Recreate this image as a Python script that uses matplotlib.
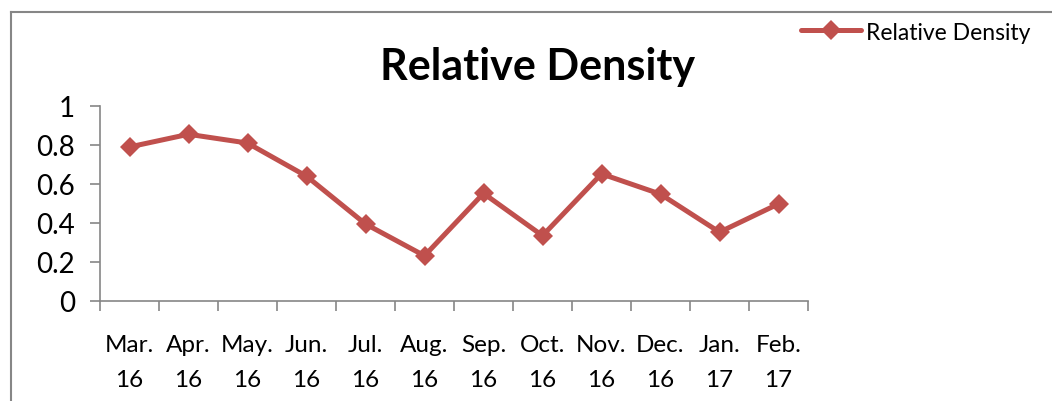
import matplotlib

matplotlib.use("Agg")
import matplotlib.pyplot as plt
from matplotlib.lines import Line2D
import numpy as np

months = ["Mar.", "Apr.", "May.", "Jun.", "Jul.", "Aug.", "Sep.", "Oct.", "Nov.", "Dec.", "Jan.", "Feb."]
years = ["16", "16", "16", "16", "16", "16", "16", "16", "16", "16", "17", "17"]
density = [0.79, 0.855, 0.81, 0.64, 0.395, 0.232, 0.552, 0.335, 0.652, 0.548, 0.353, 0.498]
yticks = [0, 0.2, 0.4, 0.6, 0.8, 1]

RED = "#C0504D"
GRAY = "#868686"
plt.rcParams["font.family"] = ["Lato", "DejaVu Sans"]

fig = plt.figure(figsize=(10.52, 4.02), dpi=100)
ax = fig.add_axes([100 / 1052, 100 / 402, 708 / 1052, 195 / 402])

x = np.arange(len(months))
ax.plot(x, density, color=RED, lw=3.6, marker="D", ms=10, mec=RED, mew=0,
        label="Relative Density", solid_capstyle="round")

ax.set_xlim(-0.5, len(months) - 0.5)
ax.set_ylim(0, 1)
ax.set_yticks(yticks)
ax.set_yticklabels([f"{v:g}" for v in yticks])
ax.set_xticks(np.arange(len(months) + 1) - 0.5)
ax.set_xticklabels([])
ax.set_xticks(x, minor=True)
ax.set_xticklabels([f"{m}\n{y}" for m, y in zip(months, years)], minor=True, linespacing=1.8)
ax.tick_params(axis="x", which="minor", length=0, pad=24, labelsize=17.5)
ax.tick_params(axis="x", which="major", length=7, color=GRAY, width=1.2)
ax.tick_params(axis="y", length=7, color=GRAY, width=1.2, labelsize=20, pad=11)
for s in ("top", "right"):
    ax.spines[s].set_visible(False)
for s in ("left", "bottom"):
    ax.spines[s].set_color(GRAY)
    ax.spines[s].set_linewidth(1.2)

fig.text(0.511, 0.833, "Relative Density", ha="center", va="center", fontsize=31, fontweight="bold")

# outer chart frame (only top and left edges visible)
fig.add_artist(Line2D([11 / 1052, 11 / 1052], [0, 1 - 13 / 402], color=GRAY, lw=1.5))
fig.add_artist(Line2D([11 / 1052, 1], [1 - 13 / 402, 1 - 13 / 402], color=GRAY, lw=1.5))

fig.legend(loc="center left", bbox_to_anchor=(801 / 1052, 369 / 402), frameon=False,
           fontsize=16.5, handlelength=2.6, handletextpad=0.25, borderaxespad=0, borderpad=0)

fig.savefig("out.png", dpi=100)
